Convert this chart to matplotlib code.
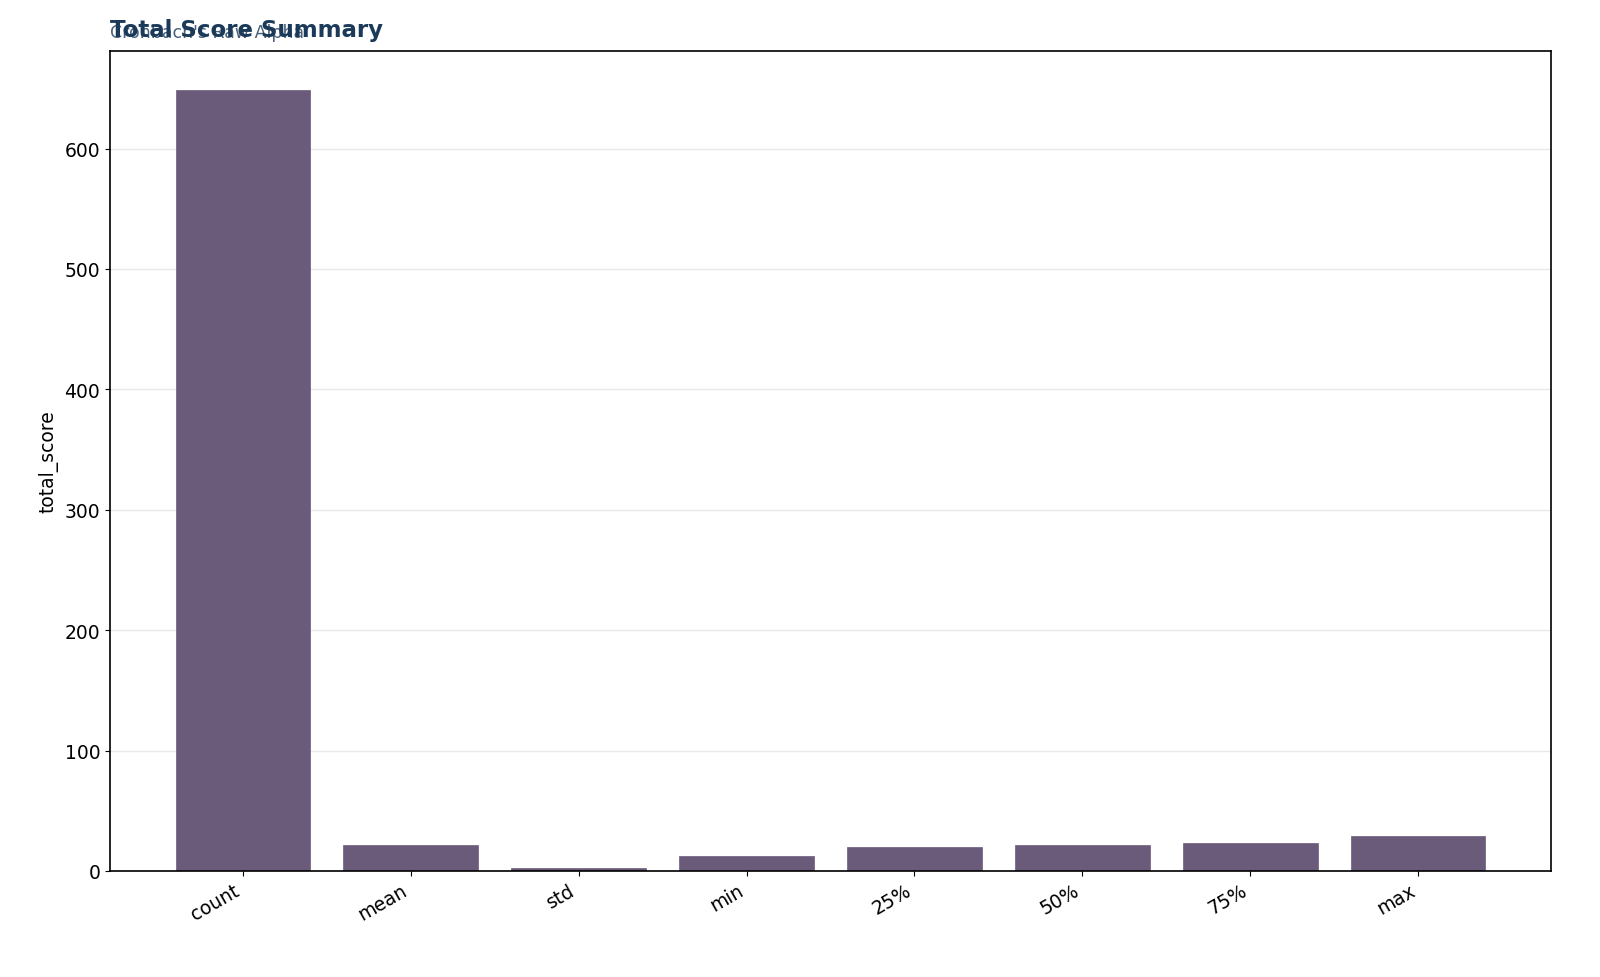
import matplotlib
matplotlib.use("Agg")
import matplotlib.pyplot as plt

categories = ["count", "mean", "std", "min", "25%", "50%", "75%", "max"]
values = [649, 21.6, 2.5, 12.5, 20.0, 21.6, 23.3, 29.0]

fig = plt.figure(figsize=(16, 9.78), dpi=100)
ax = fig.add_axes([110/1600, 1-872/978, 1441/1600, 820/978])
ax.bar(categories, values, color="#6b5b7b", width=0.8, edgecolor="#6b5b7b", linewidth=0.5)
ax.set_ylim(0, 681)
ax.set_xlim(-0.79, 7.79)
ax.set_ylabel("total_score", fontsize=13.5)
ax.yaxis.grid(True, color="#e8e8e8", linewidth=1)
ax.set_axisbelow(True)
ax.tick_params(labelsize=13.5)
plt.setp(ax.get_xticklabels(), rotation=30, ha="right")
for s in ax.spines.values():
    s.set_linewidth(1.2)
fig.text(110/1600, 1-30/978, "Total Score Summary", fontsize=16.5, fontweight="bold", color="#1b3a5a", va="center")
fig.text(110/1600, 1-33/978, "Cronbach's Raw Alpha", fontsize=12.5, color="#1b3a5a", alpha=0.8, va="center")
fig.savefig("out.png", dpi=100)
